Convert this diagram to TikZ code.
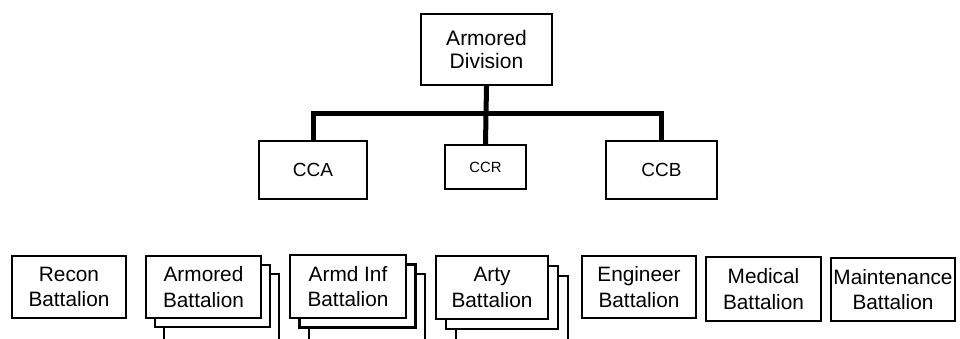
\documentclass[tikz,border=0pt]{standalone}
\usepackage{fontspec}
\setmainfont{Liberation Sans}
\begin{document}
\begin{tikzpicture}[x=1pt,y=-1pt,
  box/.style={draw=black,line width=2.2pt,fill=white,rectangle,inner sep=0pt,
    align=center,font=\fontsize{20.8}{25.5}\selectfont},
  link/.style={draw=black,line width=5pt}]
\clip (0,0) rectangle (960,338);
\fill[white] (0,0) rectangle (960,338);
% top level
\node[box,minimum width=131pt,minimum height=71pt,font=\fontsize{21}{23.5}\selectfont] (div) at (486.5,49.5) {Armored\\Division};
\node[box,minimum width=108pt,minimum height=58pt,font=\fontsize{19}{22}\selectfont] (cca) at (313,170) {CCA};
\node[box,minimum width=81pt,minimum height=44pt,font=\fontsize{14.8}{18}\selectfont] (ccr) at (485.5,167) {CCR};
\node[box,minimum width=111pt,minimum height=58pt,font=\fontsize{19}{22}\selectfont] (ccb) at (661.5,170) {CCB};
\coordinate (bar) at (0,113);
\draw[link] (cca.north) -- (cca.north |- bar) -- (ccb.north |- bar) -- (ccb.north);
\draw[link] (div.south) -- (ccr.north);
% battalions
\node[box,minimum width=114pt,minimum height=62pt] (recon) at (69,287) {Recon\\Battalion};
\node[box,minimum width=115pt,minimum height=66pt] (arm3) at (221.5,307) {};
\node[box,minimum width=115pt,minimum height=62pt] (arm2) at (212.5,296) {};
\node[box,minimum width=115pt,minimum height=62pt] (arm) at (203.5,287) {Armored\\Battalion};
\node[box,minimum width=116pt,minimum height=67pt] (inf3) at (367,307.5) {};
\node[box,minimum width=116pt,minimum height=63pt] (inf2) at (357.5,296) {};
\node[box,minimum width=116pt,minimum height=63pt] (inf) at (348,286.5) {Armd Inf\\Battalion};
\node[box,minimum width=112pt,minimum height=66pt] (arty3) at (512,309) {};
\node[box,minimum width=112pt,minimum height=63pt] (arty2) at (502,297.5) {};
\node[box,minimum width=112pt,minimum height=63pt] (arty) at (492,287.5) {Arty\\Battalion};
\node[box,minimum width=114pt,minimum height=62pt] (eng) at (639,287) {Engineer\\Battalion};
\node[box,minimum width=115pt,minimum height=64pt] (med) at (763.5,289) {Medical\\Battalion};
\node[box,minimum width=124pt,minimum height=63pt] (maint) at (893,289.5) {Maintenance\\Battalion};
\end{tikzpicture}
\end{document}
